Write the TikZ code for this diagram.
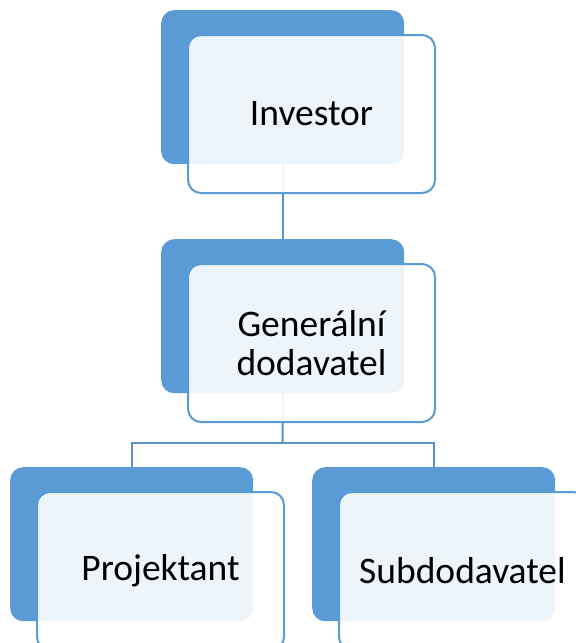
\documentclass[tikz,border=0pt]{standalone}
\usepackage{fontspec}
\setmainfont{Carlito}
\definecolor{accent}{HTML}{5B9BD5}
\definecolor{linkc}{HTML}{5A92CC}
\tikzset{
  backbox/.style={draw=none, fill=accent, rounded corners=13pt, inner sep=0pt,
    minimum width=243pt, minimum height=154pt, anchor=north west},
  frontbox/.style={draw=accent, line width=2pt, fill=white, fill opacity=0.9,
    text opacity=1, rounded corners=13pt, inner sep=0pt, align=center,
    minimum width=247pt, minimum height=158pt, anchor=north west,
    font=\fontsize{37.5}{38.5}\selectfont},
  link/.style={draw=linkc, line width=2pt}
}
\begin{document}
\begin{tikzpicture}[x=1pt,y=-1pt]
\useasboundingbox (0,0) rectangle (576,643);
\clip (0,0) rectangle (576,643);
% back plates
\node[backbox] (invB) at (161,10) {};
\node[backbox] (genB) at (161,239) {};
\node[backbox] (proB) at (10,467) {};
\node[backbox] (subB) at (312,467) {};
% connectors, under the front plates
\coordinate (fork) at (282.5,443);
\draw[link] (invB.south) -- (genB.north);
\draw[link] (genB.south) -- (fork);
\draw[link] (proB.north) |- (fork) -| (subB.north);
% front plates with labels
\node[frontbox] (inv) at (187,34) {Investor};
\node[frontbox] (gen) at (187,263) {Generální\\dodavatel};
\node[frontbox] (pro) at (36,491) {Projektant};
\node[frontbox] (sub) at (338,491) {Subdodavatel};
\end{tikzpicture}
\end{document}
